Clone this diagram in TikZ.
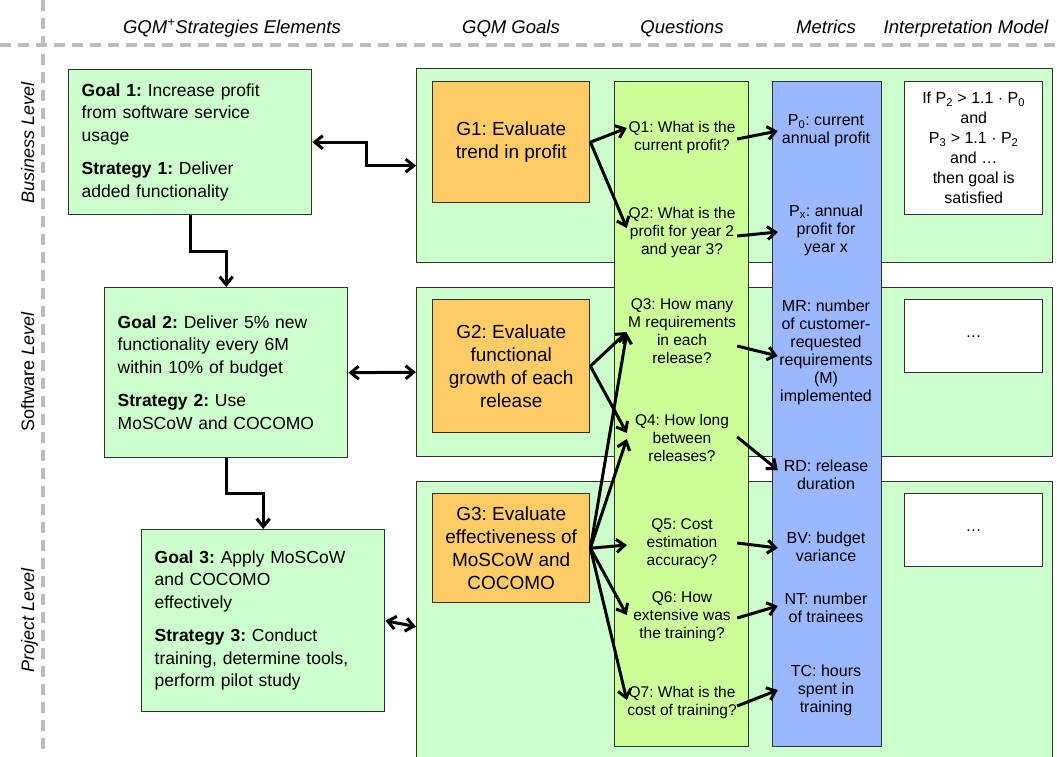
\documentclass[tikz,border=0pt]{standalone}
\usepackage{fontspec}
\setmainfont{Liberation Sans}
\usetikzlibrary{arrows.meta,calc}
\definecolor{panelgreen}{HTML}{CCFFCC}
\definecolor{goalorange}{HTML}{FFCC66}
\definecolor{qgreen}{HTML}{CCFF99}
\definecolor{mblue}{HTML}{9BB8FF}
\definecolor{edgecol}{HTML}{303030}
\definecolor{dashgray}{HTML}{BDBDBD}
\frenchspacing
\begin{document}
\begin{tikzpicture}[x=1pt,y=-1pt,
  boxline/.style={draw=edgecol,line width=1.4pt,inner sep=0pt,anchor=north west},
  panel/.style={boxline,fill=panelgreen},
  goalbox/.style={draw=edgecol,line width=1.4pt,fill=panelgreen,anchor=north west,
     text width=217pt,inner sep=13pt,align=left,minimum width=243pt,
     font=\fontsize{17.5}{22.5}\selectfont},
  gqmbox/.style={boxline,fill=goalorange,align=center,
     font=\fontsize{19}{23}\selectfont},
  colbox/.style={boxline},
  imbox/.style={boxline,fill=white,align=center,
     font=\fontsize{16}{20}\selectfont},
  qtext/.style={minimum width=110pt,inner sep=0pt,align=center,
     font=\fontsize{15.5}{18}\selectfont},
  mtext/.style={minimum width=96pt,inner sep=0pt,align=center,
     font=\fontsize{16}{18}\selectfont},
  header/.style={anchor=base,font=\fontsize{18.5}{22}\selectfont\itshape},
  levellabel/.style={rotate=90,anchor=base,font=\fontsize{18}{22}\selectfont},
  guide/.style={draw=dashgray,line width=4pt,dash pattern=on 11pt off 7pt},
  arr/.style={line width=3pt,-{Straight Barb[length=8pt,width=13pt]}},
  darr/.style={line width=3pt,{Straight Barb[length=8pt,width=13pt]}-{Straight Barb[length=8pt,width=13pt]}},
]
\useasboundingbox (0,0) rectangle (1057,756);
\clip (0,0) rectangle (1057,756);

% guide lines
\coordinate (vtop) at (43,0);
\coordinate (vbot) at (43,756);
\coordinate (hl) at (0,45);
\coordinate (hr) at (1057,45);
\draw[guide] (vtop) -- (vbot);
\draw[guide] (hl) -- (hr);

% headers
\node[header] (h1) at (232,33) {GQM\textsuperscript{+}Strategies Elements};
\node[header] (h2) at (511,33) {GQM Goals};
\node[header] (h3) at (682,33) {Questions};
\node[header] (h4) at (826,33) {Metrics};
\node[header] (h5) at (966,33) {Interpretation Model};

% level labels
\node[levellabel] (l1) at (34,143) {\itshape Business Level};
\node[levellabel] (l2) at (34,372) {Software \itshape Level};
\node[levellabel] (l3) at (34,620) {\itshape Project Level};

% panels
\node[panel,minimum width=636pt,minimum height=194pt] (panel1) at (416,68) {};
\node[panel,minimum width=636pt,minimum height=169pt] (panel2) at (416,287) {};
\node[panel,minimum width=636pt,minimum height=290pt] (panel3) at (416,481) {};

% columns
\node[colbox,fill=qgreen,minimum width=134pt,minimum height=665pt] (qcol) at (614,81) {};
\node[colbox,fill=mblue,minimum width=109pt,minimum height=665pt] (mcol) at (772,81) {};

% interpretation boxes
\node[imbox,minimum width=138pt,minimum height=133pt] (im1) at (904,81)
  {If P\textsubscript{2} > 1.1 · P\textsubscript{0}\\and\\P\textsubscript{3} > 1.1 · P\textsubscript{2}\\and …\\then goal is\\satisfied};
\node[imbox,minimum width=138pt,minimum height=73pt] (im2) at (904,299) {…};
\node[imbox,minimum width=138pt,minimum height=73pt] (im3) at (904,493) {…};

% GQM goals
\node[gqmbox,minimum width=157pt,minimum height=121pt] (g1) at (432,81) {G1: Evaluate\\trend in profit};
\node[gqmbox,minimum width=157pt,minimum height=133pt] (g2) at (432,299) {G2: Evaluate\\functional\\growth of each\\release};
\node[gqmbox,minimum width=157pt,minimum height=109pt] (g3) at (432,493) {G3: Evaluate\\effectiveness of\\MoSCoW and\\COCOMO};

% GQM+Strategies elements
\node[goalbox,minimum height=145pt] (goal1) at (68,69)
  {\textbf{Goal 1:} Increase profit\\from software service\\usage\\[11pt]\textbf{Strategy 1:} Deliver\\added functionality};
\node[goalbox,minimum height=170pt] (goal2) at (104,287)
  {\textbf{Goal 2:} Deliver 5\% new\\functionality every 6M\\within 10\% of budget\\[11pt]\textbf{Strategy 2:} Use\\MoSCoW and COCOMO};
\node[goalbox,minimum height=182pt] (goal3) at (141,529)
  {\textbf{Goal 3:} Apply MoSCoW\\and COCOMO\\effectively\\[11pt]\textbf{Strategy 3:} Conduct\\training, determine tools,\\perform pilot study};

% questions
\node[qtext] (q1) at (682,137) {Q1: What is the\\current profit?};
\node[qtext] (q2) at (682,232) {Q2: What is the\\profit for year 2\\and year 3?};
\node[qtext] (q3) at (682,331) {Q3: How many\\M requirements\\in each\\release?};
\node[qtext] (q4) at (682,438) {Q4: How long\\between\\releases?};
\node[qtext] (q5) at (682,544) {Q5: Cost\\estimation\\accuracy?};
\node[qtext] (q6) at (682,617) {Q6: How\\extensive was\\the training?};
\node[qtext] (q7) at (682,702) {Q7: What is the\\cost of training?};

% metrics
\node[mtext] (p0) at (826,131) {P\textsubscript{0}: current\\annual profit};
\node[mtext] (px) at (826,230) {P\textsubscript{x}: annual\\profit for\\year x};
\node[mtext] (mr) at (826,352) {MR: number\\of customer-\\requested\\requirements\\(M)\\implemented};
\node[mtext] (rd) at (826,475) {RD: release\\duration};
\node[mtext] (bv) at (826,547) {BV: budget\\variance};
\node[mtext] (nt) at (826,608) {NT: number\\of trainees};
\node[mtext] (tc) at (826,690) {TC: hours\\spent in\\training};

% strategy hierarchy
\draw[arr] (goal1.south) -- ++(0,36) -| (goal2.north);
\draw[arr] (goal2.south) -- ++(0,35) -| (goal3.north);

% goal <-> panel
\draw[darr] (goal1.east) -- ++(54,0) |- (panel1.west);
\draw[darr] (goal2.east) -- (panel2.west);
\draw[darr] (goal3.east) -- (panel3.west);

% goals -> questions
\draw[arr] (g1.east) -- ($(q1.west)+(0,-9)$);
\draw[arr] (g1.east) -- ($(q2.west)+(0,-4)$);
\draw[arr] (g2.east) -- ($(q3.west)+(0,1)$);
\draw[arr] (g2.east) -- ($(q4.west)+(0,-5)$);
\draw[arr] (g3.east) -- ($(q3.west)+(0,2)$);
\draw[arr] (g3.east) -- ($(q4.west)+(0,1)$);
\draw[arr] (g3.east) -- ($(q5.west)+(0,1)$);
\draw[arr] (g3.east) -- ($(q6.west)+(0,-2)$);
\draw[arr] (g3.east) -- ($(q7.west)+(0,-2)$);

% questions -> metrics
\draw[arr] ($(q1.east)+(0,2)$) -- (p0.west);
\draw[arr] ($(q2.east)+(0,4)$) -- ($(px.west)+(0,2)$);
\draw[arr] ($(q3.east)+(0,15)$) -- ($(mr.west)+(0,4)$);
\draw[arr] ($(q4.east)+(0,-1)$) -- ($(rd.west)+(0,-5)$);
\draw[arr] ($(q5.east)+(0,-1)$) -- ($(bv.west)+(0,1)$);
\draw[arr] ($(q6.east)+(0,1)$) -- ($(nt.west)+(0,-2)$);
\draw[arr] ($(q7.east)+(0,4)$) -- (tc.west);
\end{tikzpicture}
\end{document}
